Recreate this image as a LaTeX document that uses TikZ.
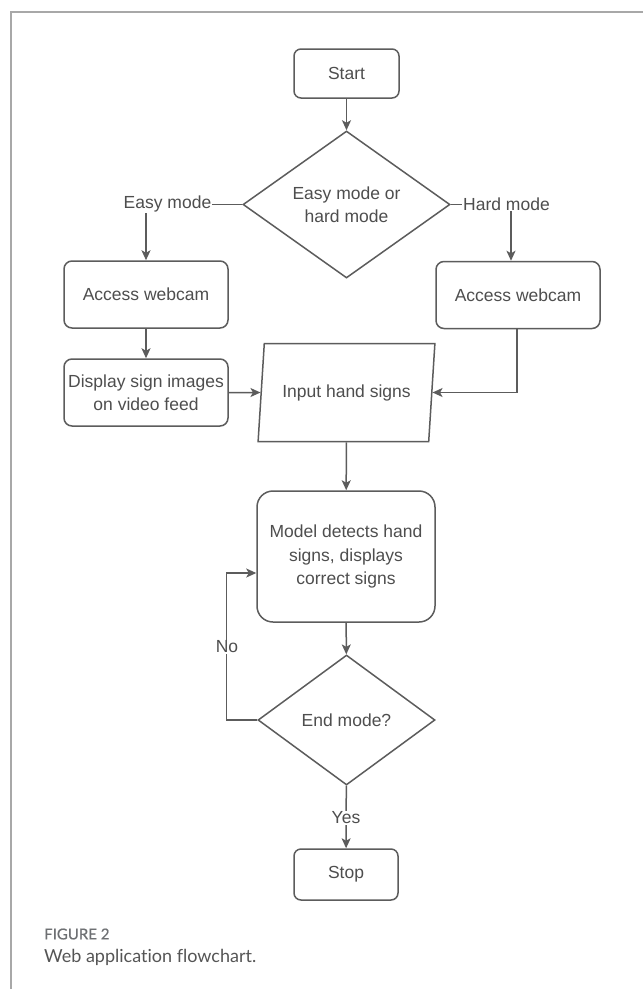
\documentclass[tikz,border=0pt]{standalone}
\usepackage{fontspec}
\setmainfont{Liberation Sans}
\newfontfamily\capfont[Ligatures=NoCommon]{Lato}
\newfontfamily\capbold[Ligatures=NoCommon,FakeBold=0.6]{Lato}
\usetikzlibrary{shapes.geometric,arrows.meta}
\definecolor{lc}{HTML}{5C5C5C}
\definecolor{tc}{HTML}{4E4E4E}
\definecolor{fc}{HTML}{A8A8A8}
\definecolor{capgray}{HTML}{6E7073}
\definecolor{captext}{HTML}{555555}
\newcommand{\dfont}{\fontsize{17.5}{23.5}\selectfont}
\tikzset{
  box/.style={draw=lc, line width=1.5pt, rounded corners=7pt, text=tc, font=\dfont, align=center, inner sep=0pt},
  dia/.style={diamond, draw=lc, line width=1.5pt, text=tc, font=\dfont, align=center, inner sep=0pt},
  para/.style={trapezium, trapezium left angle=73.5, trapezium right angle=106.5, trapezium stretches=true, draw=lc, line width=1.5pt, text=tc, font=\dfont, align=center, inner sep=0pt},
  lbl/.style={fill=white, text=tc, font=\dfont, inner sep=1pt},
  ln/.style={draw=lc, line width=1.5pt},
  arr/.style={ln, -{Stealth[length=10pt,width=9pt,inset=2.5pt]}},
}
\begin{document}
\begin{tikzpicture}[x=1pt,y=-1pt]
\useasboundingbox[fill=white] (0,0) rectangle (643,989);
% frame
\draw[fc, line width=1.3pt] (643,12) -- (11,12) -- (11,989);
% nodes
\node[box, minimum width=105pt, minimum height=49pt] (start) at (346.5,73.5) {Start};
\node[dia, minimum width=207pt, minimum height=147pt] (d1) at (346.5,204.5) {Easy mode or\\hard mode};
\node[box, rounded corners=8pt, minimum width=164pt, minimum height=67pt] (acc1) at (146,294.5) {Access webcam};
\node[box, rounded corners=8pt, minimum width=164pt, minimum height=67pt] (acc2) at (518,295) {Access webcam};
\node[box, rounded corners=8pt, minimum width=164pt, minimum height=67pt] (disp) at (146,392.5) {Display sign images\\on video feed};
\node[para, minimum width=177pt, minimum height=98pt] (inp) at (346.5,392.5) {Input hand signs};
\node[box, rounded corners=16pt, minimum width=178pt, minimum height=131pt] (model) at (346,556.5) {Model detects hand\\signs, displays\\correct signs};
\node[dia, minimum width=177pt, minimum height=130pt] (d2) at (346.5,720) {End mode?};
\node[box, minimum width=104pt, minimum height=51pt] (stop) at (346,874.5) {Stop};
% connectors
\draw[arr] (start) -- (d1);
\draw[arr] (d1.west) -| (acc1.north);
\draw[arr] (d1.east) -| ([xshift=-7pt]acc2.north);
\draw[arr] (acc1) -- (disp);
\draw[arr] (disp) -- (inp);
\draw[arr] ([xshift=-1pt]acc2.south) |- (inp);
\draw[arr] (inp) -- (model);
\draw[arr] (model) -- (d2);
\draw[arr] (d2.west) -- ++(-31,0) |- ([yshift=-16.5pt]model.west);
\draw[arr] (d2) -- (stop);
% labels
\node[lbl] (easy) at (167.5,204) {Easy mode};
\node[lbl] (hard) at (506.5,204) {Hard mode};
\node[lbl] (no) at (227,647) {No};
\node[lbl] (yes) at (346,818) {Yes};
% caption
\node[anchor=west, inner sep=0pt, text=capgray, font=\capbold\fontsize{15}{17}\selectfont] (fig) at (44,934) {FIGURE 2};
\node[anchor=west, inner sep=0pt, text=captext, font=\capfont\fontsize{18}{20}\selectfont] (cap) at (44,957) {Web application flowchart.};
\end{tikzpicture}
\end{document}
